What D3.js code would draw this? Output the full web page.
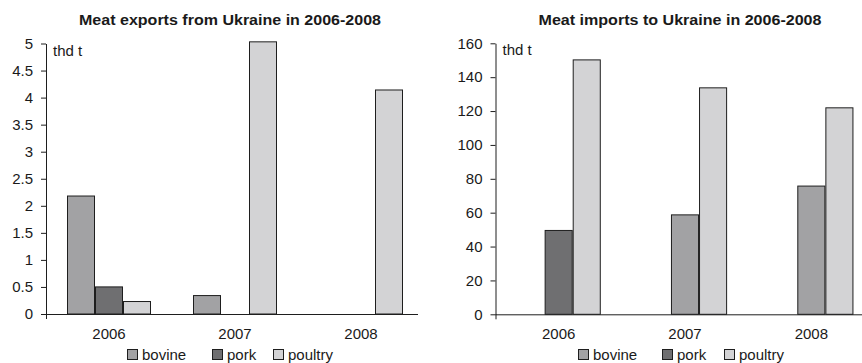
<!DOCTYPE html>
<html>
<head>
<meta charset="utf-8">
<script src="https://cdn.jsdelivr.net/npm/d3@7"></script>
<style>
  html, body { margin: 0; padding: 0; background: #fff; }
  svg { display: block; }
  text { font-family: "Liberation Sans", Arial, sans-serif; fill: #1a1a1a; }
</style>
</head>
<body>
<svg id="chart" width="862" height="363"></svg>
<script>
// Years on the category axis
const years = ["2006", "2007", "2008"];
const meatTypes = ["bovine", "pork", "poultry"];

// Exports, thousand tonnes
const exportBovine = [2.19, 0.35, 0];
const exportPork = [0.51, 0, 0];
const exportPoultry = [0.24, 5.04, 4.15];

// Imports, thousand tonnes
const importBovine = [0, 59, 76];
const importPork = [49.8, 0, 0];
const importPoultry = [150.5, 134, 122.2];

// Axis tick values
const exportTicks = [0, 0.5, 1, 1.5, 2, 2.5, 3, 3.5, 4, 4.5, 5];
const importTicks = [0, 20, 40, 60, 80, 100, 120, 140, 160];

const colors = { bovine: "#a2a2a4", pork: "#6f6f71", poultry: "#d3d3d5" };

const svg = d3.select("#chart");

function drawPanel(cfg) {
  const g = svg.append("g");

  const x = d3.scaleBand().domain(years).range(cfg.xRange)
    .paddingInner(1 / 3).paddingOuter(1 / 6);
  const slot = d3.scaleBand().domain([0, 1, 2]).range([0, x.bandwidth()]);
  const y = d3.scaleLinear().domain(cfg.yDomain).range(cfg.yRange);

  // Bars
  cfg.series.forEach(s => {
    g.append("g").selectAll("rect")
      .data(years.map((yr, i) => ({ yr, v: s.values[i] })).filter(d => d.v > 0))
      .join("rect")
      .attr("x", d => x(d.yr) + slot(cfg.slots[s.key]) + 0.5)
      .attr("y", d => y(d.v) + 0.5)
      .attr("width", slot.bandwidth() - 1)
      .attr("height", d => y(0) - y(d.v) - 0.5)
      .attr("fill", colors[s.key])
      .attr("stroke", "#1e1e1e")
      .attr("stroke-width", 1);
  });

  // Value axis
  const yAxis = g.append("g")
    .attr("transform", `translate(${cfg.xRange[0]},0)`)
    .call(d3.axisLeft(y).tickValues(cfg.ticks).tickSize(5).tickPadding(8)
      .tickSizeOuter(0).tickFormat(d3.format("")));
  yAxis.select(".domain").attr("stroke", "#1e1e1e");
  yAxis.selectAll(".tick line").attr("stroke", "#1e1e1e");
  yAxis.selectAll(".tick text").attr("font-size", 15).style("fill", "#1a1a1a")
    .attr("font-family", "Liberation Sans, Arial, sans-serif");

  // Category axis: baseline, origin tick and year labels
  g.append("line")
    .attr("x1", cfg.xRange[0]).attr("x2", cfg.xLineEnd)
    .attr("y1", y(0) + 0.5).attr("y2", y(0) + 0.5)
    .attr("stroke", "#1e1e1e");
  g.append("line")
    .attr("x1", cfg.xRange[0] + 0.5).attr("x2", cfg.xRange[0] + 0.5)
    .attr("y1", y(0)).attr("y2", y(0) + 5)
    .attr("stroke", "#1e1e1e");
  g.append("g").selectAll("text").data(years).join("text")
    .attr("x", d => x(d) + x.bandwidth() / 2)
    .attr("y", y(0) + 25)
    .attr("text-anchor", "middle")
    .attr("font-size", 15)
    .text(d => d);

  // Unit label
  g.append("text")
    .attr("x", cfg.xRange[0] + 7).attr("y", cfg.yRange[1] + 12)
    .attr("font-size", 15)
    .text("thd t");

  // Title, set in a wide bold face
  g.append("text")
    .attr("x", cfg.titleX).attr("y", 25)
    .attr("text-anchor", "middle")
    .attr("font-size", 14)
    .attr("font-weight", "bold")
    .attr("textLength", cfg.titleWidth)
    .attr("lengthAdjust", "spacingAndGlyphs")
    .text(cfg.title);

  // Legend
  const leg = g.append("g").selectAll("g").data(meatTypes).join("g")
    .attr("transform", (d, i) => `translate(${cfg.legendX[i]},349)`);
  leg.append("rect")
    .attr("x", 0.5).attr("y", 0.5).attr("width", 10).attr("height", 10)
    .attr("fill", d => colors[d]).attr("stroke", "#1e1e1e");
  leg.append("text")
    .attr("x", 15).attr("y", 10.5)
    .attr("font-size", 15)
    .text(d => d);
}

drawPanel({
  title: "Meat exports from Ukraine in 2006-2008",
  titleX: 230,
  titleWidth: 302,
  xRange: [46, 424],
  xLineEnd: 418,
  yDomain: [0, 5],
  yRange: [314, 43.5],
  ticks: exportTicks,
  series: [
    { key: "bovine", values: exportBovine },
    { key: "pork", values: exportPork },
    { key: "poultry", values: exportPoultry }
  ],
  slots: { bovine: 0, pork: 1, poultry: 2 },
  legendX: [127, 212, 273]
});

drawPanel({
  title: "Meat imports to Ukraine in 2006-2008",
  titleX: 680,
  titleWidth: 283,
  xRange: [495.5, 874.5],
  xLineEnd: 862,
  yDomain: [0, 160],
  yRange: [314.3, 43.3],
  ticks: importTicks,
  series: [
    { key: "bovine", values: importBovine },
    { key: "pork", values: importPork },
    { key: "poultry", values: importPoultry }
  ],
  slots: { bovine: 1, pork: 1, poultry: 2 },
  legendX: [578, 662, 724]
});
</script>
</body>
</html>
